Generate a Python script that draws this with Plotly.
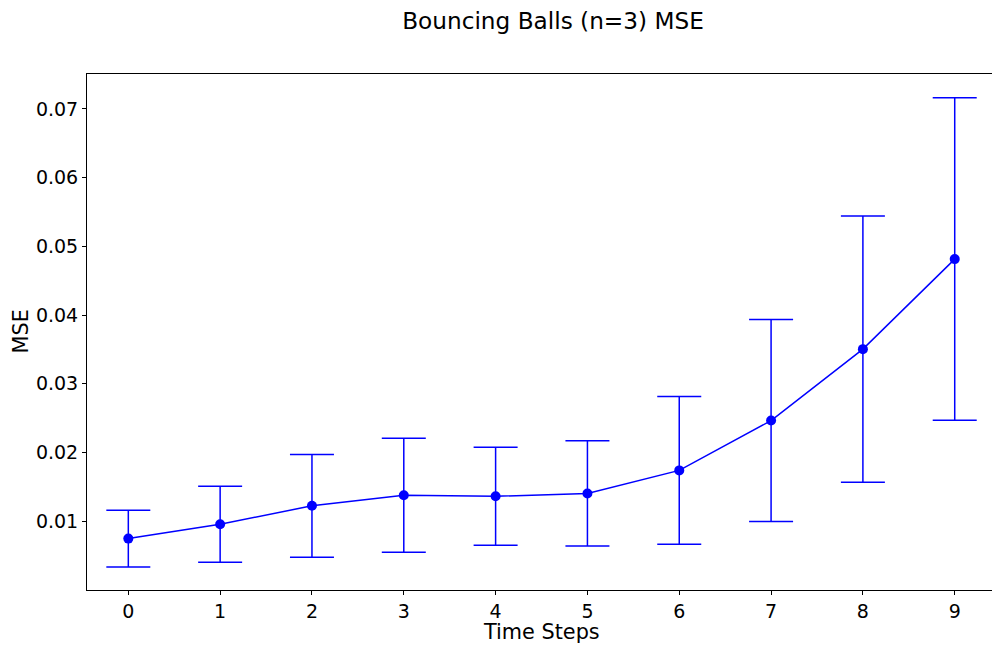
import plotly.graph_objects as go

time_steps = [0, 1, 2, 3, 4, 5, 6, 7, 8, 9]
mse_mean = [0.00748, 0.00956, 0.01225, 0.01378, 0.01363, 0.01405, 0.01740, 0.02465, 0.03504, 0.04814]
mse_std = [0.00412, 0.00553, 0.00748, 0.00830, 0.00713, 0.00765, 0.01075, 0.01470, 0.01938, 0.02346]
y_ticks = [0.01, 0.02, 0.03, 0.04, 0.05, 0.06, 0.07]

fig = go.Figure()
fig.add_trace(go.Scatter(
    x=time_steps, y=mse_mean,
    mode="lines+markers",
    line=dict(color="#0000ff", width=1.5),
    marker=dict(color="#0000ff", size=10),
    error_y=dict(type="data", array=mse_std, visible=True,
                 color="#0000ff", thickness=1.5, width=22),
    showlegend=False,
))

font = "DejaVu Sans, sans-serif"
plot_h = 646 - 74 - 56
plot_w = 905
fig.update_layout(
    width=992, height=646,
    margin=dict(l=87, r=0, t=74, b=56),
    plot_bgcolor="white", paper_bgcolor="white",
    font=dict(family=font, size=20, color="black"),
    title=dict(text="Bouncing Balls (n=3) MSE", x=(553 - 87) / plot_w, xref="paper",
               xanchor="center", y=0.968, yanchor="middle",
               font=dict(family=font, size=23.2, color="black")),
    xaxis=dict(
        range=[-0.45, 9.406], tickmode="array", tickvals=time_steps,
        ticktext=[str(t) for t in time_steps],
        showline=True, linecolor="black", linewidth=1, mirror=True,
        ticks="outside", ticklen=4, tickcolor="black", showgrid=False, zeroline=False,
        tickfont=dict(size=19),
    ),
    yaxis=dict(
        range=[0, 0.07507], tickmode="array", tickvals=y_ticks,
        ticktext=[f"{v:.2f}" for v in y_ticks],
        showline=True, linecolor="black", linewidth=1, mirror=False,
        ticks="outside", ticklen=4, tickcolor="black", showgrid=False, zeroline=False,
        tickfont=dict(size=19),
    ),
    annotations=[
        dict(text="Time Steps", xref="paper", yref="paper",
             x=(541.5 - 87) / plot_w, y=-(631.5 - 590) / plot_h,
             xanchor="center", yanchor="middle", showarrow=False,
             font=dict(size=20.8)),
        dict(text="MSE", xref="paper", yref="paper",
             x=(20.5 - 87) / plot_w, y=(590 - 332) / plot_h, textangle=-90,
             xanchor="center", yanchor="middle", showarrow=False,
             font=dict(size=20.8)),
    ],
)

fig.write_html("out.html")
